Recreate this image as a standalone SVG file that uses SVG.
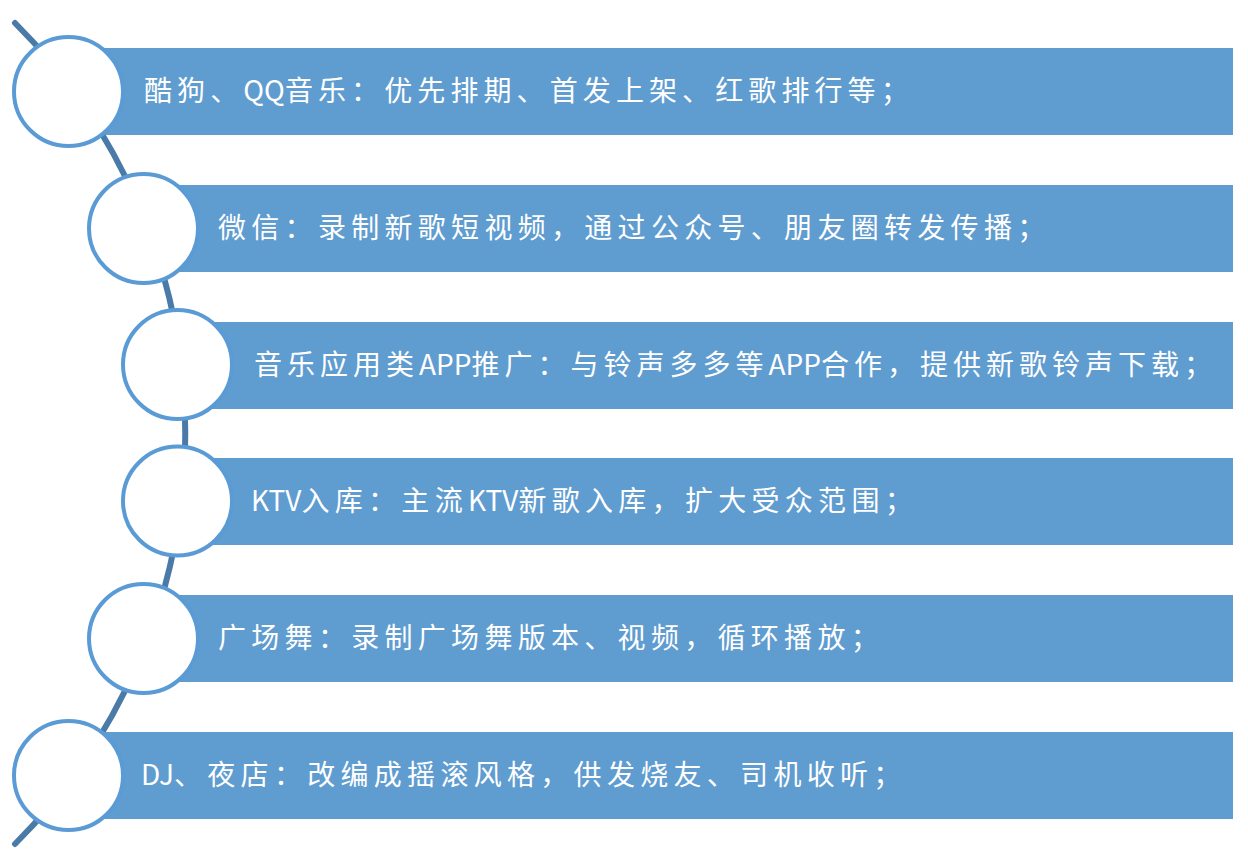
<svg xmlns="http://www.w3.org/2000/svg" width="1248" height="867" viewBox="0 0 1248 867">
<style>
.bar{fill:#5f9cd0}
.ring{fill:#ffffff;stroke:#5b9bd5;stroke-width:4}
.lbl{fill:#ffffff;font-family:"Noto Sans CJK SC","Noto Sans",sans-serif;font-size:28px;letter-spacing:5.3px}
.lat{letter-spacing:0px}
.link{fill:none;stroke:#4a7aa8;stroke-width:6;stroke-linecap:round}
</style>
<rect x="0" y="0" width="1248" height="867" fill="#ffffff"/>
<g id="connectors">
<path class="link" d="M15,23 A580,580 0 0 1 15,844"/>
</g>
<g id="node1">
<rect class="bar" x="68" y="48" width="1165" height="87"/>
<circle class="ring" cx="68.5" cy="91.5" r="54.5"/>
<text class="lbl" x="144" y="101" style="letter-spacing:5.1px">酷狗、<tspan class="lat">QQ</tspan>音乐：优先排期、首发上架、红歌排行等；</text>
</g>
<g id="node2">
<rect class="bar" x="143" y="185" width="1090" height="87"/>
<circle class="ring" cx="143.5" cy="228.5" r="54.5"/>
<text class="lbl" x="218" y="238">微信：录制新歌短视频，通过公众号、朋友圈转发传播；</text>
</g>
<g id="node3">
<rect class="bar" x="177" y="322" width="1056" height="87"/>
<circle class="ring" cx="177.5" cy="364.5" r="54.5"/>
<text class="lbl" x="254" y="375" style="letter-spacing:5px">音乐应用类<tspan class="lat">APP</tspan>推广：与铃声多多等<tspan class="lat">APP</tspan>合作，提供新歌铃声下载；</text>
</g>
<g id="node4">
<rect class="bar" x="177" y="458" width="1056" height="87"/>
<circle class="ring" cx="177.5" cy="501" r="54.5"/>
<text class="lbl" x="251" y="511"><tspan class="lat">KTV</tspan>入库：主流<tspan class="lat">KTV</tspan>新歌入库，扩大受众范围；</text>
</g>
<g id="node5">
<rect class="bar" x="143" y="595" width="1090" height="87"/>
<circle class="ring" cx="143.5" cy="638.5" r="54.5"/>
<text class="lbl" x="218" y="648">广场舞：录制广场舞版本、视频，循环播放；</text>
</g>
<g id="node6">
<rect class="bar" x="68" y="732" width="1165" height="87"/>
<circle class="ring" cx="68.5" cy="775.5" r="54.5"/>
<text class="lbl" x="141" y="785"><tspan class="lat">DJ</tspan>、夜店：改编成摇滚风格，供发烧友、司机收听；</text>
</g>
</svg>
